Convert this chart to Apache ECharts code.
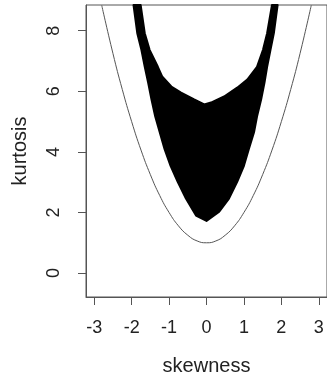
<!DOCTYPE html>
<html><head><meta charset="utf-8">
<script src="https://cdn.jsdelivr.net/npm/echarts@6/dist/echarts.min.js"></script>
<style>html,body{margin:0;padding:0;background:#fff}#c{width:327px;height:381px}</style>
</head><body><div id="c"></div>
<script>
// tick labels
var xTicks = [-3, -2, -1, 0, 1, 2, 3];
var yTicks = [0, 2, 4, 6, 8];
// lower bound curve
var curveSkew = [-2.8, -2.5, -2.25, -2, -1.75, -1.5, -1.25, -1, -0.75, -0.5, -0.25, 0, 0.25, 0.5, 0.75, 1, 1.25, 1.5, 1.75, 2, 2.25, 2.5, 2.8];
var curveKurt = [8.84, 7.25, 6.06, 5, 4.06, 3.25, 2.56, 2, 1.56, 1.25, 1.06, 1, 1.06, 1.25, 1.56, 2, 2.56, 3.25, 4.06, 5, 6.06, 7.25, 8.84];
// outline of the simulated point cloud
var cloudSkew = [-1.95, -1.85, -1.74, -1.65, -1.56, -1.47, -1.37, -1.25, -1.12, -0.96, -0.77, -0.55, -0.28, 0.00,
                 0.34, 0.60, 0.82, 1.00, 1.13, 1.27, 1.35, 1.46, 1.55, 1.62, 1.71, 1.80, 1.90,
                 1.75, 1.62, 1.51, 1.35, 1.09, 0.82, 0.47, 0.12, -0.06, -0.33, -0.68, -0.94, -1.18, -1.30, -1.52, -1.65, -1.76];
var cloudKurt = [8.85, 7.92, 7.37, 6.81, 6.29, 5.73, 5.17, 4.65, 4.09, 3.54, 3.01, 2.46, 1.90, 1.72,
                 2.03, 2.46, 3.01, 3.54, 4.09, 4.65, 5.17, 5.73, 6.29, 6.81, 7.37, 7.92, 8.85,
                 8.85, 7.92, 7.37, 6.81, 6.39, 6.12, 5.83, 5.63, 5.57, 5.73, 5.96, 6.16, 6.48, 6.81, 7.37, 7.92, 8.85];

var chart = echarts.init(document.getElementById('c'));
var font = 'Liberation Sans, Arial, sans-serif';
chart.setOption({
  animation: false,
  grid: {left: 86, top: 5, width: 243, height: 294, show: true, borderColor: '#555', borderWidth: 1, backgroundColor: 'transparent'},
  xAxis: {
    type: 'value', min: -3.22, max: 3.22,
    name: 'skewness', nameLocation: 'middle', nameGap: 59,
    nameTextStyle: {fontFamily: font, fontSize: 20, color: '#222'},
    axisLine: {show: true, onZero: false, lineStyle: {color: '#555'}},
    axisTick: {show: true, length: 8, lineStyle: {color: '#555'}, customValues: xTicks},
    axisLabel: {fontFamily: font, fontSize: 18, color: '#222', margin: 22, customValues: xTicks},
    splitLine: {show: false}
  },
  yAxis: {
    type: 'value', min: -0.79, max: 8.85,
    name: 'kurtosis', nameLocation: 'middle', nameGap: 56, nameRotate: 90,
    nameTextStyle: {fontFamily: font, fontSize: 20, color: '#222'},
    axisLine: {show: true, onZero: false, lineStyle: {color: '#555'}},
    axisTick: {show: true, length: 8, lineStyle: {color: '#555'}, customValues: yTicks},
    axisLabel: {fontFamily: font, fontSize: 18, color: '#222', margin: 23, rotate: 90, customValues: yTicks},
    splitLine: {show: false}
  },
  series: [
    {
      type: 'custom',
      data: [[0, 0]],
      renderItem: function (params, api) {
        var pts = [];
        for (var i = 0; i < cloudSkew.length; i++) pts.push(api.coord([cloudSkew[i], cloudKurt[i]]));
        return {type: 'polygon', shape: {points: pts}, style: {fill: '#000', stroke: '#000', lineWidth: 2, lineJoin: 'round'}};
      },
      silent: true
    },
    {
      type: 'line', smooth: true, showSymbol: false,
      data: curveSkew.map(function (s, i) { return [s, curveKurt[i]]; }),
      lineStyle: {color: '#555', width: 1}
    }
  ]
});
</script></body></html>
